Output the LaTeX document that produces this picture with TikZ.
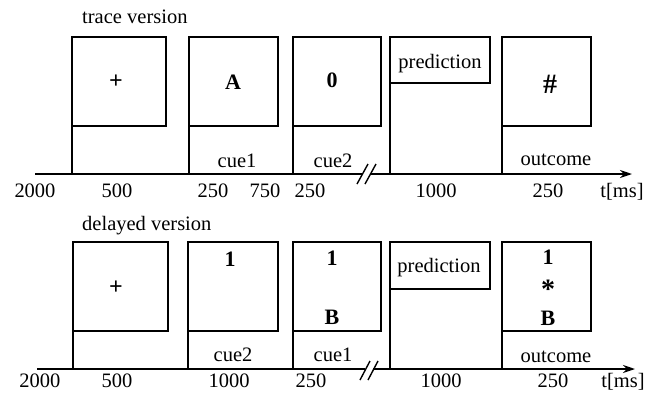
\documentclass[tikz,border=0pt]{standalone}
\usepackage{fontspec}
\setmainfont{Liberation Serif}
\usetikzlibrary{arrows.meta}
\begin{document}
\begin{tikzpicture}[x=1pt,y=-1pt,
  box/.style={draw,line width=1.8pt,anchor=north west,inner sep=0pt,outer sep=0pt},
  lbl/.style={inner sep=0pt,anchor=base,font=\fontsize{20.5}{24}\selectfont},
  sym/.style={inner sep=0pt,anchor=center,font=\fontsize{22}{24}\selectfont\bfseries},
  bigsym/.style={sym,font=\fontsize{28}{30}\selectfont\bfseries},
  plussym/.style={sym,font=\fontsize{24}{26}\selectfont\bfseries},
  axisline/.style={line width=1.8pt},
  arrowaxis/.style={line width=1.8pt,-{Stealth[length=12pt,width=8pt]}},
  stem/.style={line width=1.3pt},
  breakmark/.style={line width=1.4pt},
]
\useasboundingbox (0,0) rectangle (657,397);

% ---------- trace version ----------
\node[lbl,anchor=base west] (ttitle) at (82,23) {trace version};
\node[box,minimum width=94pt,minimum height=89pt] (t1) at (72,37) {};
\node[box,minimum width=89pt,minimum height=89pt] (t2) at (189,37) {};
\node[box,minimum width=88pt,minimum height=89pt] (t3) at (293,37) {};
\node[box,minimum width=100pt,minimum height=46pt] (tp) at (390,37) {};
\node[box,minimum width=89pt,minimum height=89pt] (to) at (502,37) {};

\coordinate (ta0) at (35,174);
\coordinate (ta1) at (362.5,174);
\coordinate (ta2) at (371,174);
\coordinate (ta3) at (632,174);
\draw[axisline] (ta0) -- (ta1);
\draw[arrowaxis] (ta2) -- (ta3);
\draw[breakmark] (357,184) -- (368,164);
\draw[breakmark] (365,184) -- (376,164);

\foreach \b in {t1,t2,t3,tp,to}
  \draw[stem] (\b.south west) -- (\b.south west |- ta0);

\node[plussym] (tplus) at (116,82) {+};
\node[sym] (tA) at (233,82) {A};
\node[sym] (t0) at (332,80) {0};
\node[lbl] (tpred) at (440,68) {prediction};
\node[bigsym] (thash) at (550,84) {\#};

\node[lbl] (tcue1) at (237,167) {cue1};
\node[lbl] (tcue2) at (333,167) {cue2};
\node[lbl] (tout) at (556,165) {outcome};

\node[lbl] (tn1) at (35,197) {2000};
\node[lbl] (tn2) at (117,197) {500};
\node[lbl] (tn3) at (213,197) {250};
\node[lbl] (tn4) at (265,197) {750};
\node[lbl] (tn5) at (310,197) {250};
\node[lbl] (tn6) at (436,197) {1000};
\node[lbl] (tn7) at (548,197) {250};
\node[lbl] (tn8) at (622,197) {t[ms]};

% ---------- delayed version ----------
\node[lbl,anchor=base west] (dtitle) at (82,230) {delayed version};
\node[box,minimum width=95pt,minimum height=89pt] (d1) at (73,242) {};
\node[box,minimum width=90pt,minimum height=89pt] (d2) at (188,242) {};
\node[box,minimum width=88pt,minimum height=89pt] (d3) at (293,242) {};
\node[box,minimum width=100pt,minimum height=47pt] (dp) at (390,242) {};
\node[box,minimum width=89pt,minimum height=89pt] (do) at (502,242) {};

\coordinate (da0) at (37,369);
\coordinate (da1) at (364.5,369);
\coordinate (da2) at (373,369);
\coordinate (da3) at (635,369);
\draw[axisline] (da0) -- (da1);
\draw[arrowaxis] (da2) -- (da3);
\draw[breakmark] (360,380) -- (370,361);
\draw[breakmark] (368,380) -- (378,361);

\foreach \b in {d1,d2,d3,dp,do}
  \draw[stem] (\b.south west) -- (\b.south west |- da0);

\node[plussym] (dplus) at (116,288) {+};
\node[sym] (d2one) at (230,259) {1};
\node[sym] (d3one) at (332,258) {1};
\node[sym] (d3B) at (332,317) {B};
\node[lbl] (dpred) at (439,272) {prediction};
\node[sym] (doone) at (548,257) {1};
\node[bigsym] (dostar) at (548,289) {*};
\node[sym] (doB) at (548,318) {B};

\node[lbl] (dcue2) at (233,361) {cue2};
\node[lbl] (dcue1) at (333,361) {cue1};
\node[lbl] (dout) at (556,362) {outcome};

\node[lbl] (dn1) at (40,387) {2000};
\node[lbl] (dn2) at (117,387) {500};
\node[lbl] (dn3) at (229,387) {1000};
\node[lbl] (dn4) at (311,387) {250};
\node[lbl] (dn5) at (441,387) {1000};
\node[lbl] (dn6) at (553,387) {250};
\node[lbl] (dn7) at (623,387) {t[ms]};
\end{tikzpicture}
\end{document}
